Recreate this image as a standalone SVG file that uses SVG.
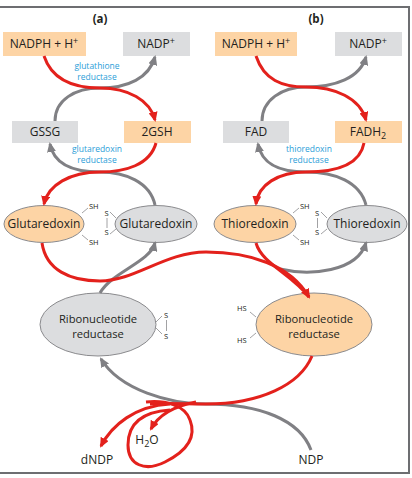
<svg xmlns="http://www.w3.org/2000/svg" width="412" height="478" viewBox="0 0 412 478">
<defs>
<style>
.t{font-family:"Open Sans","Noto Sans",sans-serif;fill:#231f20;}
.box{font-size:12px;text-anchor:middle;}
.ell{font-size:12px;text-anchor:middle;}
.rnr{font-size:11.2px;text-anchor:middle;}
.blue{font-family:"Open Sans","Noto Sans",sans-serif;fill:#2b9ed8;font-size:8.5px;text-anchor:middle;}
.sm{font-family:"Open Sans","Noto Sans",sans-serif;fill:#231f20;font-size:7.5px;}
.hd{font-family:"Open Sans","Noto Sans",sans-serif;fill:#231f20;font-size:11.5px;font-weight:bold;text-anchor:middle;}
.or{fill:#fdd4a5;}
.gr{fill:#dcdddf;}
.eor{fill:#fdd4a5;stroke:#8a8a8d;stroke-width:1;}
.egr{fill:#dcdddf;stroke:#8a8a8d;stroke-width:1;}
.tick{stroke:#8a8a8d;stroke-width:0.8;fill:none;}
.red{fill:none;stroke:#e3211c;stroke-width:3;}
.gry{fill:none;stroke:#808084;stroke-width:3;}
.frame{stroke:#6d6e71;stroke-width:2;fill:none;}
</style>
<marker id="ar" markerUnits="userSpaceOnUse" markerWidth="10" markerHeight="9" refX="8" refY="4.5" orient="auto"><path d="M0,0 L10,4.5 L0,9 Z" fill="#e3211c"/></marker>
<marker id="ag" markerUnits="userSpaceOnUse" markerWidth="10" markerHeight="9" refX="8" refY="4.5" orient="auto"><path d="M0,0 L10,4.5 L0,9 Z" fill="#808084"/></marker>
</defs>
<rect width="412" height="478" fill="#ffffff"/>
<g id="frame"><path class="frame" d="M0,7 H409 V473 H0"/></g>
<g id="labels">
<text class="hd" x="100" y="23">(a)</text>
<text class="hd" x="316" y="23">(b)</text>
</g>
<g id="nadph-a"><rect class="or" x="3" y="32" width="83" height="24"/><text class="t box" x="44" y="48">NADPH + H<tspan font-size="9" dy="-4">+</tspan></text></g>
<g id="nadp-a"><rect class="gr" x="123" y="32" width="67" height="24"/><text class="t box" x="156" y="48">NADP<tspan font-size="9" dy="-4">+</tspan></text></g>
<g id="gssg"><rect class="gr" x="12" y="121" width="66" height="22"/><text class="t box" x="45" y="136">GSSG</text></g>
<g id="gsh"><rect class="or" x="124" y="121" width="67" height="22"/><text class="t box" x="157" y="136">2GSH</text></g>
<g id="nadph-b"><rect class="or" x="215" y="32" width="82" height="24"/><text class="t box" x="256" y="48">NADPH + H<tspan font-size="9" dy="-4">+</tspan></text></g>
<g id="nadp-b"><rect class="gr" x="335" y="32" width="67" height="24"/><text class="t box" x="368" y="48">NADP<tspan font-size="9" dy="-4">+</tspan></text></g>
<g id="fad"><rect class="gr" x="223" y="121" width="66" height="22"/><text class="t box" x="256" y="136">FAD</text></g>
<g id="fadh2"><rect class="or" x="335" y="121" width="67" height="22"/><text class="t box" x="368" y="136">FADH<tspan font-size="9" dy="3">2</tspan></text></g>
<g id="enzyme-labels">
<text class="blue" x="97" y="68.5">glutathione</text>
<text class="blue" x="97" y="79.5">reductase</text>
<text class="blue" x="97" y="152">glutaredoxin</text>
<text class="blue" x="97" y="163">reductase</text>
<text class="blue" x="309" y="152">thioredoxin</text>
<text class="blue" x="309" y="163">reductase</text>
</g>
<g id="glutaredoxin-red"><ellipse class="eor" cx="44" cy="224" rx="40" ry="18.5"/><text class="t ell" x="44" y="228">Glutaredoxin</text>
<path class="tick" d="M82,213 L88,208 M82,235 L88,240"/><text class="sm" x="89" y="209">SH</text><text class="sm" x="89" y="245">SH</text></g>
<g id="glutaredoxin-ox"><ellipse class="egr" cx="156" cy="224" rx="41" ry="18.5"/><text class="t ell" x="156" y="228">Glutaredoxin</text>
<text class="sm" x="104.5" y="216">S</text><text class="sm" x="104.5" y="235">S</text><path class="tick" d="M107,218 V228 M110,212 L116,218 M110,234 L116,229"/></g>
<g id="thioredoxin-red"><ellipse class="eor" cx="255" cy="224" rx="41" ry="18.5"/><text class="t ell" x="255" y="228">Thioredoxin</text>
<path class="tick" d="M293,213 L299,208 M293,235 L299,240"/><text class="sm" x="300" y="209">SH</text><text class="sm" x="300" y="245">SH</text></g>
<g id="thioredoxin-ox"><ellipse class="egr" cx="367" cy="224" rx="40" ry="18.5"/><text class="t ell" x="367" y="228">Thioredoxin</text>
<text class="sm" x="315" y="216">S</text><text class="sm" x="315" y="235">S</text><path class="tick" d="M317.5,218 V228 M321,212 L327,218 M321,234 L327,229"/></g>
<g id="rnr-ox"><ellipse class="egr" cx="98" cy="324.5" rx="58" ry="31.5"/><text class="t rnr" x="98" y="322.5">Ribonucleotide</text><text class="t rnr" x="98" y="338">reductase</text>
<path class="tick" d="M156,322 L162,316 M156,328 L162,334 M166.5,320 V331"/><text class="sm" x="164" y="318">S</text><text class="sm" x="164" y="339">S</text></g>
<g id="rnr-red"><ellipse class="eor" cx="314" cy="324.5" rx="58" ry="31.5"/><text class="t rnr" x="314" y="322.5">Ribonucleotide</text><text class="t rnr" x="314" y="338">reductase</text>
<path class="tick" d="M250,312 L256,317 M250,338 L256,333"/><text class="sm" x="237" y="311">HS</text><text class="sm" x="237" y="343">HS</text></g>
<g id="substrates">
<text class="t box" x="97" y="464">dNDP</text>
<text class="t box" x="147" y="444">H<tspan font-size="9" dy="3">2</tspan><tspan dy="-3">O</tspan></text>
<text class="t box" x="311" y="464">NDP</text>
</g>
<g id="connectors">
<path class="gry" marker-end="url(#ag)" d="M55,121 C55,100 75,88 100,88 C128,88 149,78 155,57"/>
<path class="gry" marker-end="url(#ag)" d="M155,205 C150,182 125,172 100,172 C75,172 54,165 50,144"/>
<path class="gry" marker-end="url(#ag)" d="M100,293 C112,272 150,262 155,243"/>
<path class="gry" marker-end="url(#ag)" d="M262,121 C262,100 282,87 306,87 C335,87 360,78 366,57"/>
<path class="gry" marker-end="url(#ag)" d="M366,205 C360,182 335,172 306,172 C280,172 262,165 258,144"/>
<path class="gry" marker-end="url(#ag)" d="M280,269 C310,276 357,272 366,243"/>
<path class="gry" marker-end="url(#ag)" d="M311,450 C300,420 260,404 206,404 C170,404 120,390 101,359"/>
<path class="red" marker-end="url(#ar)" d="M44,56 C52,80 75,88 100,88 C128,88 150,100 155,120"/>
<path class="red" marker-end="url(#ar)" d="M156,143 C150,165 125,172 100,172 C70,172 48,185 44,204"/>
<path class="red" marker-end="url(#ar)" d="M256,56 C264,80 282,87 306,87 C335,87 360,98 366,120"/>
<path class="red" marker-end="url(#ar)" d="M364,143 C360,165 335,172 306,172 C278,172 258,185 256,204"/>
<path class="red" d="M256,243 C262,264 292,274 309,297"/>
<path class="red" marker-end="url(#ar)" d="M42,243 C46,270 70,281 100,281 C135,281 165,252 206,252 C250,252 290,265 309,297"/>
<path class="red" d="M312,356 C300,385 260,404 206,404 C185,404 168,403 150,404"/>
<path class="red" marker-end="url(#ar)" d="M170,404 C135,406 112,425 101,446"/>
<path class="red" marker-end="url(#ar)" d="M196,402 C180,405 160,412 151,429"/>
<path class="red" d="M146,402 C165,400 185,405 190,420 C197,438 185,452 165,462 C145,472 128,465 128,445 C128,425 140,412 170,410"/>
</g>
</svg>
